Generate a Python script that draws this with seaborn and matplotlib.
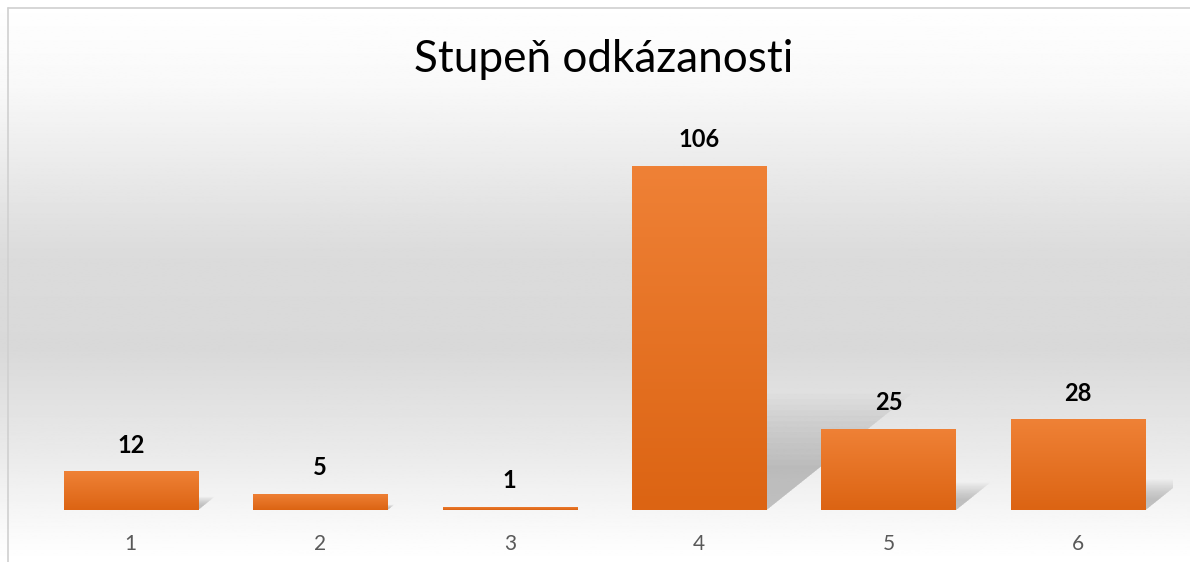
"""
Stupeň odkázanosti - stĺpcový graf v štýle Excelu
"""
import numpy as np
import pandas as pd
import matplotlib
matplotlib.use("Agg")
import matplotlib.pyplot as plt
import matplotlib.patches as mpatches
from matplotlib.colors import LinearSegmentedColormap
import seaborn as sns

# ── Dáta ────────────────────────────────────────────────────────────────────
stupne = ["1", "2", "3", "4", "5", "6"]
pocty = [12, 5, 1, 106, 25, 28]
nadpis = "Stupeň odkázanosti"

df = pd.DataFrame({"stupen": stupne, "pocet": pocty})

sns.set_style("white")
plt.rcParams["font.family"] = ["Lato", "DejaVu Sans"]

fig = plt.figure(figsize=(11.9, 5.62), dpi=100)

# ── Pozadie: sivý prechod ───────────────────────────────────────────────────
bg = fig.add_axes([0, 0, 1, 1], zorder=-5)
yy = np.linspace(0, 1, 400)  # 0 = hore
prof = np.interp(yy, [0.0, 0.15, 0.45, 0.62, 0.80, 0.96, 1.0],
                 [1.0, 0.975, 0.86, 0.85, 0.915, 0.985, 1.0])
bg.imshow(np.repeat(prof[:, None], 2, axis=1), cmap="gray", vmin=0, vmax=1,
          aspect="auto", extent=[0, 1, 0, 1])
bg.set_xlim(0, 1)
bg.set_ylim(0, 1)
bg.axis("off")
# jemný rámček (vľavo a hore)
bg.plot([8 / 1190, 8 / 1190], [0, 1 - 8 / 562], color="#d0d0d0", lw=1.2)
bg.plot([8 / 1190, 1], [1 - 8 / 562, 1 - 8 / 562], color="#d0d0d0", lw=1.2)

# ── Hlavný graf ─────────────────────────────────────────────────────────────
ax = fig.add_axes([0.0303, 0.0925, 0.9554, 0.693])
ax.set_facecolor("none")
sns.barplot(data=df, x="stupen", y="pocet", color="#ED7D31", width=0.71,
            ax=ax, saturation=1)

grad = LinearSegmentedColormap.from_list("oranz", ["#dc6413", "#ef8136"])
px_per_unit = (510 - 166) / 106.0
px_per_x = 189.5

for patch, val in zip(ax.patches, pocty):
    x0, y0 = patch.get_x(), patch.get_y()
    w, h = patch.get_width(), patch.get_height()
    # tieň (mäkký, z viacerých vrstiev)
    s = 0.26 * h
    d = 1.25 * s * px_per_unit / px_per_x
    xr = x0 + w
    for k in np.linspace(1.3, 0.5, 14):
        tri = mpatches.Polygon([(xr, 0), (xr + d * k, s * k), (xr, s * k)],
                               closed=True, facecolor="#7a7a7a", alpha=0.035,
                               edgecolor="none", zorder=1)
        ax.add_patch(tri)
    # prechod na stĺpci
    patch.set_facecolor("none")
    patch.set_edgecolor("none")
    im = ax.imshow(np.linspace(0, 1, 100)[:, None], cmap=grad, aspect="auto",
                   extent=[x0, x0 + w, y0, y0 + h], origin="lower", zorder=2)
    im.set_clip_path(patch)
    ax.text(x0 + w / 2, h + 26 / px_per_unit, str(val), ha="center",
            va="center", fontsize=17, fontweight="bold", color="black")

ax.set_ylim(0, 120)
ax.set_xlim(-0.5, len(stupne) - 0.5)
ax.set_xlabel("")
ax.set_ylabel("")
ax.set_yticks([])
ax.tick_params(axis="x", length=0, pad=17, labelsize=15, labelcolor="#595959")
sns.despine(ax=ax, left=True, bottom=True)

fig.text(604 / 1190, 1 - 60 / 562, nadpis, ha="center", va="center",
         fontsize=31.8, color="black")

fig.savefig("out.png", dpi=100)
plt.close()
